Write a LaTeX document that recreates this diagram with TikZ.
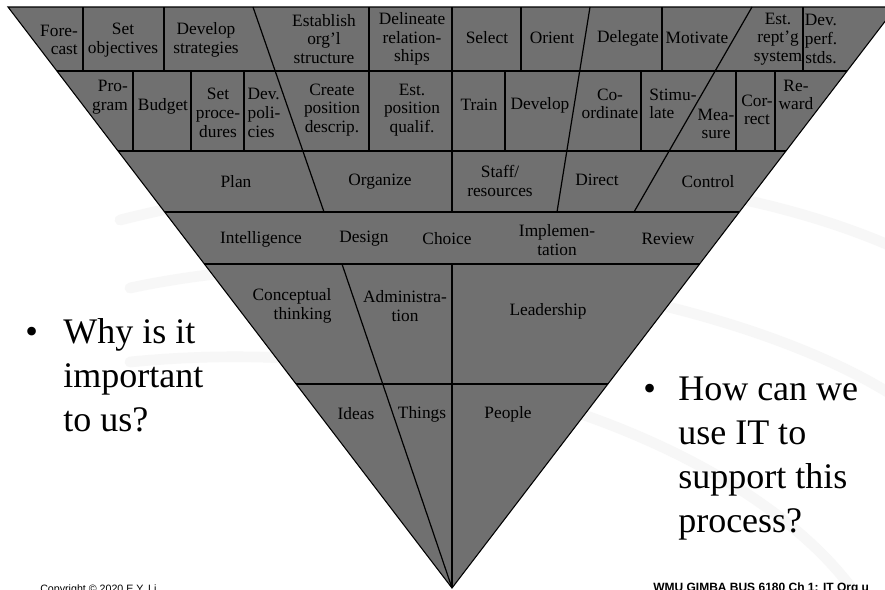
\documentclass[tikz,border=0pt]{standalone}
\usepackage{fontspec}
\setmainfont{Liberation Serif}
\newfontfamily\footfont{Liberation Sans}
\definecolor{trifill}{RGB}{112,112,112}
\definecolor{swoosh}{RGB}{247,247,247}
\begin{document}
\begin{tikzpicture}[x=0.75pt,y=-0.75pt,
  lbl/.style={align=center,inner sep=0pt,font=\fontsize{13}{14}\selectfont},
  lblr/.style={lbl,align=right},
  lbll/.style={lbl,align=left},
  rowline/.style={line width=1.5pt},
  divline/.style={line width=1.5pt},
  slantline/.style={line width=0.9pt},
  bigtext/.style={inner sep=0pt,align=left,anchor=base west,font=\fontsize{27}{33}\selectfont},
  bulletmark/.style={inner sep=0pt,anchor=base west,font=\fontsize{27}{33}\selectfont},
  swooshline/.style={draw=swoosh,line width=8pt,line cap=round}]
\useasboundingbox (0,0) rectangle (885,589);
\clip (0,0) rectangle (885,589);
\fill[white] (0,0) rectangle (885,589);
% faint background swooshes
\draw[swooshline] (120,220) .. controls (400,150) and (700,160) .. (900,250);
\draw[swooshline] (130,288) .. controls (400,230) and (750,300) .. (900,400);
\draw[swooshline] (130,362) .. controls (450,330) and (760,450) .. (860,600);
% triangle
\filldraw[fill=trifill,draw=black,line width=0.8pt] (8,7) coordinate (tl) -- (896,7) coordinate (tr) -- (452,588) coordinate (apex) -- cycle;
% row boundaries
\draw[rowline] (56.9,71) -- (847.1,71);
\draw[rowline] (118.0,151) -- (786.0,151);
\draw[rowline] (164.7,212) -- (739.3,212);
\draw[rowline] (204.4,264) -- (699.6,264);
\draw[rowline] (296.1,384) -- (607.9,384);
% row 1 dividers
\foreach \x in {83,164,521,662,803} \draw[divline] (\x,7) -- (\x,71);
% dividers crossing rows 1-2
\draw[divline] (369,7) -- (369,151);
\draw[divline] (452,7) -- (452,212);
% row 2 dividers
\foreach \x in {133,191,244,505,641,736,775} \draw[divline] (\x,71) -- (\x,151);
% slanted lines
\draw[slantline] (253,7) -- (324,212);
\draw[slantline] (590,7) -- (557,212);
\draw[slantline] (752,7) -- (634,212);
% lower part
\draw[divline] (452,264) -- (apex);
\draw[slantline] (342,264) -- (apex);
% row 1 labels
\node[lblr] (fc) at (59,40) {Fore-\\cast};
\node[lbl] (so) at (123,40) {Set\\objectives};
\node[lbl] (ds) at (206,40) {Develop\\strategies};
\node[lbl] (eo) at (324,39) {Establish\\org’l\\structure};
\node[lbl] (dr) at (412,39) {Delineate\\relation-\\ships};
\node[lbl] (sel) at (487,38) {Select};
\node[lbl] (ori) at (552,38) {Orient};
\node[lbl] (del) at (628,38) {Delegate};
\node[lbl] (mot) at (697,38) {Motivate};
\node[lbl] (ers) at (778,39) {Est.\\rept’g\\system};
\node[lbl] (dps) at (821,39) {Dev.\\perf.\\stds.};
% row 2 labels
\node[lblr] (prg) at (110,97) {Pro-\\gram};
\node[lbl] (bud) at (163,106) {Budget};
\node[lbl] (spr) at (218,113) {Set\\proce-\\dures};
\node[lbll] (dpo) at (264,113) {Dev.\\poli-\\cies};
\node[lbl] (cpd) at (332,110) {Create\\position\\descrip.};
\node[lbl] (epq) at (412,110) {Est.\\position\\qualif.};
\node[lbl] (tra) at (479,105) {Train};
\node[lbl] (dev) at (540,105) {Develop};
\node[lbl] (coo) at (610,104) {Co-\\ordinate};
\node[lbll] (sti) at (673,104) {Stimu-\\late};
\node[lbl] (mea) at (716,124) {Mea-\\sure};
\node[lbl] (cor) at (757,110) {Cor-\\rect};
\node[lbl] (rew) at (796,95) {Re-\\ward};
% row 3 labels
\node[lbl] (pla) at (236,182) {Plan};
\node[lbl] (org) at (380,182) {Organize};
\node[lbl] (sta) at (500,181) {Staff/\\resources};
\node[lbl] (dir) at (597,180) {Direct};
\node[lbl] (con) at (708,182) {Control};
% row 4 labels
\node[lbl] (int) at (261,239) {Intelligence};
\node[lbl] (des) at (364,239) {Design};
\node[lbl] (cho) at (447,239) {Choice};
\node[lbl] (imp) at (557,240) {Implemen-\\tation};
\node[lbl] (rev) at (668,239) {Review};
% row 5 labels
\node[lblr] (cth) at (292,306) {Conceptual\\thinking};
\node[lbl] (adm) at (405,306) {Administra-\\tion};
\node[lbl] (lea) at (548,311) {Leadership};
% row 6 labels
\node[lbl] (ide) at (356,414) {Ideas};
\node[lbl] (thi) at (422,414) {Things};
\node[lbl] (peo) at (508,414) {People};
% bullets (multi-line nodes: base = baseline of last line)
\node[bulletmark] (b1) at (25,343) {•};
\node[bigtext] (q1) at (63,431) {Why is it\\important\\to us?};
\node[bulletmark] (b2) at (643,400) {•};
\node[bigtext] (q2) at (678,532) {How can we\\use IT to\\support this\\process?};
% footers
\node[inner sep=0pt,anchor=base west,font=\footfont\fontsize{8}{9}\selectfont] (cp) at (40,592.5) {Copyright © 2020 E.Y. Li};
\node[inner sep=0pt,anchor=base west,font=\footfont\bfseries\fontsize{9}{10}\selectfont] (ft) at (653,591.5) {WMU GIMBA BUS 6180 Ch 1: IT Org u};
\end{tikzpicture}
\end{document}
